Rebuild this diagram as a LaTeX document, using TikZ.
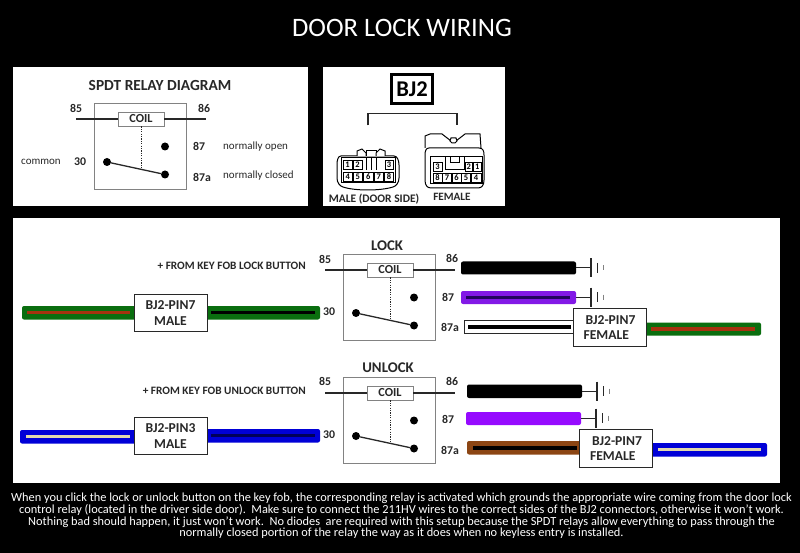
\documentclass[tikz,border=0pt]{standalone}
\usepackage{fontspec}
\setmainfont{Carlito}
\definecolor{ink}{RGB}{40,40,40}
\definecolor{wgreen}{RGB}{10,110,15}
\definecolor{wred}{RGB}{165,50,15}
\definecolor{wpurpleA}{RGB}{130,25,230}
\definecolor{wpurpleB}{RGB}{150,10,255}
\definecolor{wnavy}{RGB}{35,5,95}
\definecolor{wblue}{RGB}{0,0,215}
\definecolor{wdarkblue}{RGB}{0,0,90}
\definecolor{wcream}{RGB}{225,215,175}
\definecolor{wbrown}{RGB}{140,70,20}
\definecolor{framegray}{RGB}{130,130,130}
\tikzset{
  panel/.style={fill=white,draw=none},
  lab/.style={font=\fontsize{11.8}{13}\selectfont\bfseries,text=ink,inner sep=0pt},
  note/.style={font=\fontsize{11}{13}\selectfont,text=ink,inner sep=0pt},
  relaybox/.style={draw=framegray,line width=0.9pt,fill=white},
  coilbox/.style={draw=framegray,line width=0.9pt,fill=white,inner sep=0pt,minimum width=46pt,minimum height=14pt,font=\fontsize{12.3}{13}\selectfont\bfseries,text=ink},
  coilwire/.style={draw=ink,line width=1.1pt},
  dotpin/.style={circle,fill=black,inner sep=0pt,minimum size=8pt},
  armature/.style={draw=ink,line width=1.3pt},
  plunger/.style={draw=ink,line width=1pt,dash pattern=on 1.2pt off 1.2pt},
  pinbox/.style={draw=ink,line width=0.9pt,fill=white,inner sep=0pt,minimum width=73pt,minimum height=37.5pt,font=\fontsize{13.6}{15.5}\selectfont\bfseries,text=ink},
  sheath/.style={rounded corners=2pt},
  stripe/.style={line width=3.2pt,line cap=butt},
  gnd/.style={draw=ink,line width=1pt},
  cellbox/.style={draw=black,line width=0.8pt,fill=white,inner sep=0pt,font=\fontsize{8.5}{9}\selectfont\bfseries,text=black},
  conn/.style={draw=black,line width=1pt,fill=white},
}
% relay: prefix, box left, box top
\newcommand{\relaydraw}[3]{%
  \draw[relaybox] (#2,#3) rectangle ++(92,86);
  \node[coilbox] (#1coil) at (#2+47,#3+16) {COIL};
  \coordinate (#1a) at (#2-18,#3+16);
  \coordinate (#1b) at (#2+112,#3+16);
  \draw[coilwire] (#1a) -- (#1coil.west);
  \draw[coilwire] (#1coil.east) -- (#1b);
  \node[dotpin] (#1no) at (#2+71,#3+43.5) {};
  \node[dotpin] (#1com) at (#2+13,#3+59) {};
  \node[dotpin] (#1nc) at (#2+71,#3+71.5) {};
  \draw[armature] (#1com) -- (#1nc);
  \coordinate (#1arm) at (#2+47,#3+65);
  \draw[plunger] (#1coil.south) -- (#1arm);
}
% ground: prefix, x, y
\newcommand{\grounddraw}[3]{%
  \coordinate (#1s) at (#2,#3);
  \coordinate (#1p) at (#2+15,#3);
  \draw[gnd] (#1s) -- (#1p);
  \draw[gnd,line width=1.1pt] (#2+15,#3-9.5) -- (#2+15,#3+9.5);
  \draw[gnd] (#2+21,#3-5) -- (#2+21,#3+5);
  \draw[gnd,draw=framegray] (#2+27,#3-2.5) -- (#2+27,#3+2.5);
}
% wire sheath: x1,y1,x2,y2,colour
\newcommand{\sheathdraw}[5]{\fill[sheath,#5] (#1,#2) rectangle (#3,#4);}
% cell: name,x1,y1,x2,y2,text
\newcommand{\cell}[6]{\node[cellbox,minimum width=#4pt-#2pt,minimum height=#5pt-#3pt] (#1) at ({(#2+#4)/2},{(#3+#5)/2}) {#6};}
\begin{document}
\begin{tikzpicture}[x=1pt,y=-1pt]
\useasboundingbox (0,0) rectangle (800,553);
\fill[black] (0,0) rectangle (800,553);
\node[text=white,font=\fontsize{26.6}{28}\selectfont,inner sep=0pt] (title) at (402,28) {DOOR LOCK WIRING};
\fill[panel] (12.5,67) rectangle (308,206);
\fill[panel] (323,67) rectangle (505,206);
\fill[panel] (12.5,218) rectangle (780,483);

% SPDT relay panel
\node[font=\fontsize{15.4}{17}\selectfont\bfseries,text=ink,inner sep=0pt] (spdt) at (160,86) {SPDT RELAY DIAGRAM};
\relaydraw{r}{94}{103}
\node[lab] (r85) at (76,108) {85};
\node[lab] (r86) at (204,108) {86};
\node[lab] (r87) at (199,146) {87};
\node[lab] (r87a) at (202,177) {87a};
\node[lab] (r30) at (80,162) {30};
\node[note] (rcommon) at (41,162) {common};
\node[note,anchor=west] (rno) at (223,147) {normally open};
\node[note,anchor=west] (rnc) at (223,176) {normally closed};

% BJ2 panel
\node[draw=black,line width=2.6pt,minimum width=41pt,minimum height=29pt,inner sep=0pt,font=\fontsize{22.5}{24}\selectfont\bfseries,text=black] (bj2) at (412,89) {BJ2};
\draw[draw=ink,line width=1.1pt] (368,125.5) -- (368,113.5) -- (457,113.5) -- (457,125.5);
\node[font=\fontsize{11.5}{13}\selectfont\bfseries,text=ink,inner sep=0pt] (mlab) at (374,199.5) {MALE (DOOR SIDE)};
\node[font=\fontsize{11.2}{13}\selectfont\bfseries,text=ink,inner sep=0pt] (flab) at (452,196.5) {FEMALE};
% male connector
\draw[conn] (341,156) -- (394,156) .. controls (397,156) and (399,160) .. (399,165) -- (399,178) .. controls (399,183) and (396,186) .. (393,187) .. controls (380,191) and (355,191) .. (343,187) .. controls (340,186) and (337,183) .. (337,178) -- (337,165) .. controls (337,160) and (338,156) .. (341,156) -- cycle;
\draw[conn] (357,156) -- (357,151) -- (362,149) -- (366,153) -- (366,156);
\draw[conn] (366,156) -- (366,151) -- (376,151) -- (376,156);
\draw[conn] (376,156) -- (376,153) -- (380,149) -- (385,151) -- (385,156);
\draw[black,line width=1pt] (341,157.5) rectangle (395,183);
\draw[black,line width=1pt] (366,157.5) -- (366,170) (371,157.5) -- (371,170) (376,157.5) -- (376,170);
\cell{m1}{343}{160}{352}{169}{1}
\cell{m2}{353}{160}{362}{169}{2}
\cell{m3}{385}{160}{393}{169}{3}
\cell{m4}{343}{172}{352.5}{181}{4}
\cell{m5}{353}{172}{362.5}{181}{5}
\cell{m6}{363.5}{172}{373}{181}{6}
\cell{m7}{374}{172}{383.5}{181}{7}
\cell{m8}{384.5}{172}{393.5}{181}{8}
% female connector
\draw[conn] (425,148) -- (425,136) -- (430,134) -- (442,134) -- (451,141) -- (456,141) -- (465,134) -- (480,134) -- (481,148);
\draw[conn] (450,141) -- (451,138) -- (456,138) -- (457,141) -- (455,143) -- (452,143) -- cycle;
\draw[conn] (429,148) -- (479,148) .. controls (483,148) and (484,151) .. (484,155) -- (484,180) .. controls (484,185) and (482,188) .. (478,188) -- (431,188) .. controls (427,188) and (425,185) .. (425,180) -- (425,155) .. controls (425,151) and (426,148) .. (429,148) -- cycle;
\draw[black,line width=1pt] (430,157) rectangle (482,184);
\draw[black,line width=1pt] (445,157) -- (445,170) -- (464,170) -- (464,157);
\draw[black,line width=1pt] (450,157) -- (450,163) -- (459,163) -- (459,157);
\cell{f3}{433}{162}{442}{171}{3}
\cell{f2}{465}{162}{472.5}{171}{2}
\cell{f1}{473.5}{162}{481}{171}{1}
\cell{f8}{433}{173}{442}{182}{8}
\cell{f7}{442.5}{173}{451.5}{182}{7}
\cell{f6}{452}{173}{461}{182}{6}
\cell{f5}{461.5}{173}{470.5}{182}{5}
\cell{f4}{471}{173}{481}{182}{4}

% LOCK
\node[font=\fontsize{14.8}{16}\selectfont\bfseries,text=ink,inner sep=0pt] (lockt) at (387,246) {LOCK};
\relaydraw{l}{343}{254}
\node[lab] (l85) at (325,259) {85};
\node[lab] (l86) at (452,258) {86};
\node[lab] (l87) at (448,297) {87};
\node[lab] (l87a) at (450,327) {87a};
\node[lab] (l30) at (329,312) {30};
\node[font=\fontsize{11.3}{13}\selectfont\bfseries,text=ink,inner sep=0pt,anchor=east] (lfrom) at (306,266) {+ FROM KEY FOB LOCK BUTTON};
% lock wires
\sheathdraw{22}{306}{136}{319.5}{wgreen}
\sheathdraw{205}{306}{320}{319.5}{wgreen}
\node[pinbox,align=center] (lm) at (170.5,313) {BJ2-PIN7\\MALE};
\coordinate (lm1) at (27,312.5); \coordinate (lm2) at (315,312.5);
\draw[stripe,wred,shorten >=4pt] (lm1) -- (lm.west |- lm1);
\draw[stripe,black,shorten <=4pt] (lm.east |- lm2) -- (lm2);
\sheathdraw{461}{261.5}{576}{274.5}{black}
\grounddraw{lg1}{576}{268}
\sheathdraw{461}{291}{576}{304}{wpurpleA}
\coordinate (lp1) at (466,297.5); \coordinate (lp2) at (570,297.5);
\draw[stripe,wnavy] (lp1) -- (lp2);
\grounddraw{lg2}{576}{297}
\draw[draw=ink,line width=1pt,fill=white] (464,320.5) rectangle (575,333.5);
\sheathdraw{644}{322.5}{761}{335.5}{wgreen}
\node[pinbox,align=left] (lf) at (609.5,327.5) {\hspace*{2pt}BJ2-PIN7\\FEMALE};
\coordinate (lw1) at (468,327); \coordinate (lw2) at (571,327);
\draw[stripe,black] (lw1) -- (lw2);
\coordinate (lr2) at (755,329);
\draw[stripe,wred,shorten <=5pt] (lf.east |- lr2) -- (lr2);

% UNLOCK
\node[font=\fontsize{14.8}{16}\selectfont\bfseries,text=ink,inner sep=0pt] (unlockt) at (388,368) {UNLOCK};
\relaydraw{u}{343}{377}
\node[lab] (u85) at (325,381) {85};
\node[lab] (u86) at (452,381) {86};
\node[lab] (u87) at (448,419) {87};
\node[lab] (u87a) at (450,450) {87a};
\node[lab] (u30) at (329,435) {30};
\node[font=\fontsize{11.3}{13}\selectfont\bfseries,text=ink,inner sep=0pt,anchor=east] (ufrom) at (306,391) {+ FROM KEY FOB UNLOCK BUTTON};
% unlock wires
\sheathdraw{20}{430}{136}{443.5}{wblue}
\sheathdraw{205}{429}{320}{442.5}{wblue}
\node[pinbox,align=center] (um) at (170.5,436) {BJ2-PIN3\\MALE};
\coordinate (um1) at (26,436.5); \coordinate (um2) at (315,435.5);
\draw[stripe,wcream,shorten >=4pt] (um1) -- (um.west |- um1);
\draw[stripe,wdarkblue,shorten <=4pt] (um.east |- um2) -- (um2);
\sheathdraw{467}{384.5}{582}{398}{black}
\grounddraw{ug1}{582}{391}
\sheathdraw{466}{412}{581}{425}{wpurpleB}
\grounddraw{ug2}{581}{418}
\sheathdraw{467}{441}{582}{454.5}{wbrown}
\sheathdraw{650}{443}{767}{456.5}{wblue}
\node[pinbox,align=left] (uf) at (616,448.5) {\hspace*{2pt}BJ2-PIN7\\FEMALE};
\coordinate (ub1) at (473,448); \coordinate (ub2) at (577,448);
\draw[stripe,black] (ub1) -- (ub2);
\coordinate (uc2) at (761,449.5);
\draw[stripe,wcream,shorten <=5pt] (uf.east |- uc2) -- (uc2);

% caption
\node[text=white,inner sep=0pt,align=center,font=\fontsize{12.35}{11.7}\selectfont,anchor=north] (cap) at (401.5,493) {%
When you click the lock or unlock button on the key fob, the corresponding relay is activated which grounds the appropriate wire coming from the door lock\\
control relay (located in the driver side door).\ \ Make sure to connect the 211HV wires to the correct sides of the BJ2 connectors, otherwise it won't work.\\
Nothing bad should happen, it just won't work.\ \ No diodes\ \ are required with this setup because the SPDT relays allow everything to pass through the\\
normally closed portion of the relay the way as it does when no keyless entry is installed.};
\end{tikzpicture}
\end{document}
